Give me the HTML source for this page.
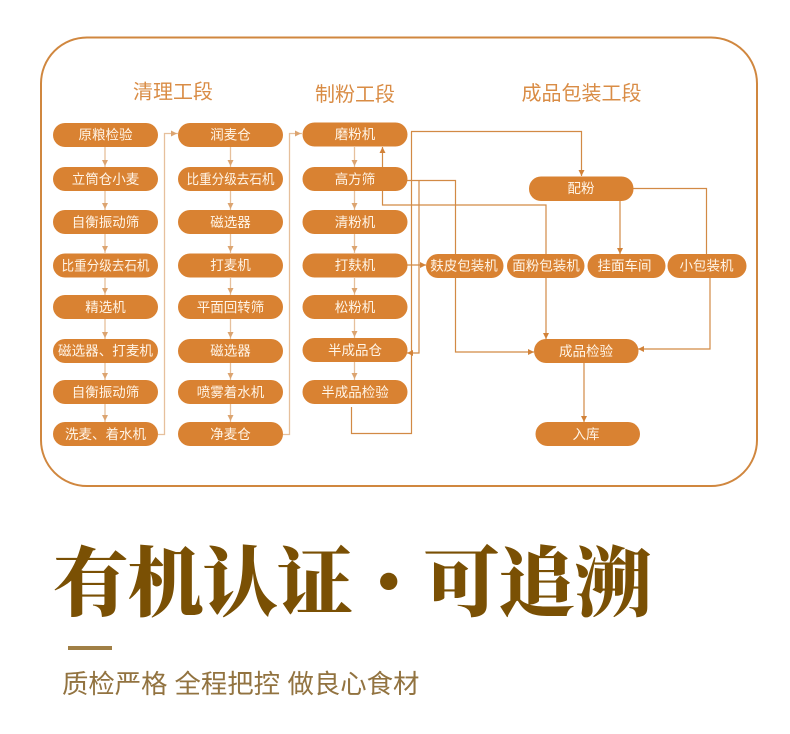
<!DOCTYPE html>
<html lang="zh"><head><meta charset="utf-8"><style>
html,body{margin:0;padding:0;background:#fff;width:790px;height:734px;overflow:hidden}
svg{display:block}
text{font-family:"Liberation Sans","Noto Sans CJK SC",sans-serif}
.p{fill:#d98232}
.t{fill:#fff4e6;font-size:13.5px;text-anchor:middle}
.h{fill:#d98c45;font-size:20px;text-anchor:middle;font-weight:400}
.l{fill:none;stroke:#e6c09c;stroke-width:1.3}
.d{fill:none;stroke:#d28a45;stroke-width:1.2}
.al{fill:#dca470}.ad{fill:#d28238}
.s{fill:#927340;font-size:26.4px;font-weight:400}
.b{font-family:"Noto Serif CJK SC",serif;font-weight:900;fill:#7a5004}
</style></head><body>
<svg width="790" height="734" viewBox="0 0 790 734" xmlns="http://www.w3.org/2000/svg">
<rect x="41" y="37.500" width="716" height="448.500" rx="46" fill="#fff" stroke="#d0873f" stroke-width="2"/>
<text class="h" x="173" y="98.500">清理工段</text>
<text class="h" x="355" y="101">制粉工段</text>
<text class="h" x="581.500" y="100">成品包装工段</text>

<path class="l" d="M105 147V167M105 191V210M105 234V253M105 278V295M105 319V339M105 363V380M105 404V422"/>
<path class="l" d="M230.500 147V167M230.500 191V210M230.500 234V253M230.500 278V295M230.500 319V339M230.500 363V380M230.500 404V422"/>
<path class="l" d="M354.500 147V167M354.500 191V210M354.500 234V253M354.500 278V295M354.500 319V338M354.500 362V380"/>
<path class="l" d="M158 434.500H164.500V133.500H178M283 434.500H289.500V133.500H302"/>
<path class="al" d="M102 160l3 6 3-6zM102 203l3 6 3-6zM102 246l3 6 3-6zM102 288l3 6 3-6zM102 332l3 6 3-6zM102 373l3 6 3-6zM102 415l3 6 3-6zM227.500 160l3 6 3-6zM227.500 203l3 6 3-6zM227.500 246l3 6 3-6zM227.500 288l3 6 3-6zM227.500 332l3 6 3-6zM227.500 373l3 6 3-6zM227.500 415l3 6 3-6zM351.500 160l3 6 3-6zM351.500 203l3 6 3-6zM351.500 246l3 6 3-6zM351.500 288l3 6 3-6zM351.500 331l3 6 3-6zM351.500 373l3 6 3-6zM171 130.500l6 3-6 3zM295 130.500l6 3-6 3z"/>

<path class="d" d="M411 131.500H581.500V176M411.500 131.500V433.500H351.500V407"/>
<path class="d" d="M407 180.500H455.500V352H534M419 180.500V353H407"/>
<path class="d" d="M407 265H426M546 254V205H382.500V147M546 278V339M620 201V254M633 188.500H706.500V254M710 278V349H638M584 363V422"/>
<path class="ad" d="M578.500 170l3 6 3-6zM528 349l6 3-6 3zM413 350l-6 3 6 3zM420 262l6 3-6 3zM379.500 153l3-6 3 6zM543 333l3 6 3-6zM617 248l3 6 3-6zM644 346l-6 3 6 3zM581 416l3 6 3-6z"/>

<g class="p">
<rect x="53" y="123" width="105" height="24" rx="12"/><rect x="53" y="167" width="105" height="24" rx="12"/><rect x="53" y="210" width="105" height="24" rx="12"/><rect x="53" y="253.500" width="105" height="24" rx="12"/><rect x="53" y="295" width="105" height="24" rx="12"/><rect x="53" y="339" width="105" height="24" rx="12"/><rect x="53" y="380" width="105" height="24" rx="12"/><rect x="53" y="422" width="105" height="24" rx="12"/>
<rect x="178" y="123" width="105" height="24" rx="12"/><rect x="178" y="167" width="105" height="24" rx="12"/><rect x="178" y="210" width="105" height="24" rx="12"/><rect x="178" y="253.500" width="105" height="24" rx="12"/><rect x="178" y="295" width="105" height="24" rx="12"/><rect x="178" y="339" width="105" height="24" rx="12"/><rect x="178" y="380" width="105" height="24" rx="12"/><rect x="178" y="422" width="105" height="24" rx="12"/>
<rect x="302.500" y="122.500" width="105" height="24" rx="12"/><rect x="302.500" y="167" width="105" height="24" rx="12"/><rect x="302.500" y="210" width="105" height="24" rx="12"/><rect x="302.500" y="253.500" width="105" height="24" rx="12"/><rect x="302.500" y="295" width="105" height="24" rx="12"/><rect x="302.500" y="338" width="105" height="24" rx="12"/><rect x="302.500" y="380" width="105" height="24" rx="12"/>
<rect x="529" y="176.500" width="104.500" height="24.500" rx="12"/>
<rect x="426" y="254" width="77.500" height="24" rx="12"/><rect x="507" y="254" width="77.500" height="24" rx="12"/><rect x="587.500" y="254" width="78" height="24" rx="12"/><rect x="667.500" y="254" width="79" height="24" rx="12"/>
<rect x="534" y="339" width="104.500" height="24" rx="12"/><rect x="535.500" y="422" width="104.500" height="24" rx="12"/>
</g>
<g class="t">
<text x="105.500" y="139.500">原粮检验</text><text x="105.500" y="184">立筒仓小麦</text><text x="105.500" y="227">自衡振动筛</text><text x="105.500" y="270.500" textLength="88" lengthAdjust="spacingAndGlyphs">比重分级去石机</text><text x="105.500" y="312">精选机</text><text x="105.500" y="355.500" textLength="95" lengthAdjust="spacingAndGlyphs">磁选器、打麦机</text><text x="105.500" y="397">自衡振动筛</text><text x="105.500" y="439">洗麦、着水机</text>
<text x="230.500" y="139.500">润麦仓</text><text x="230.500" y="184" textLength="88" lengthAdjust="spacingAndGlyphs">比重分级去石机</text><text x="230.500" y="227">磁选器</text><text x="230.500" y="270">打麦机</text><text x="230.500" y="312">平面回转筛</text><text x="230.500" y="355.500">磁选器</text><text x="230.500" y="397">喷雾着水机</text><text x="230.500" y="439">净麦仓</text>
<text x="355" y="139">磨粉机</text><text x="355" y="184">高方筛</text><text x="355" y="227">清粉机</text><text x="355" y="270">打麸机</text><text x="355" y="312">松粉机</text><text x="355" y="355">半成品仓</text><text x="355" y="397">半成品检验</text>
<text x="581" y="193">配粉</text><text x="464" y="270.500">麸皮包装机</text><text x="546" y="270.500">面粉包装机</text><text x="624.500" y="270.500">挂面车间</text><text x="706.500" y="270.500">小包装机</text><text x="586" y="356">成品检验</text><text x="586" y="439">入库</text>
</g>
<text class="b" x="53" y="610" font-size="76" letter-spacing="-1.4">有机认证</text>
<text class="b" x="372.700" y="616" font-size="94">·</text>
<text class="b" x="423.500" y="610" font-size="76" letter-spacing="-0.4">可追溯</text>
<rect x="68" y="646" width="44" height="4" fill="#a07f45"/>
<text class="s" x="62" y="693">质检严格</text><text class="s" x="174.500" y="693">全程把控</text><text class="s" x="287.500" y="693">做良心食材</text>
</svg>
</body></html>
